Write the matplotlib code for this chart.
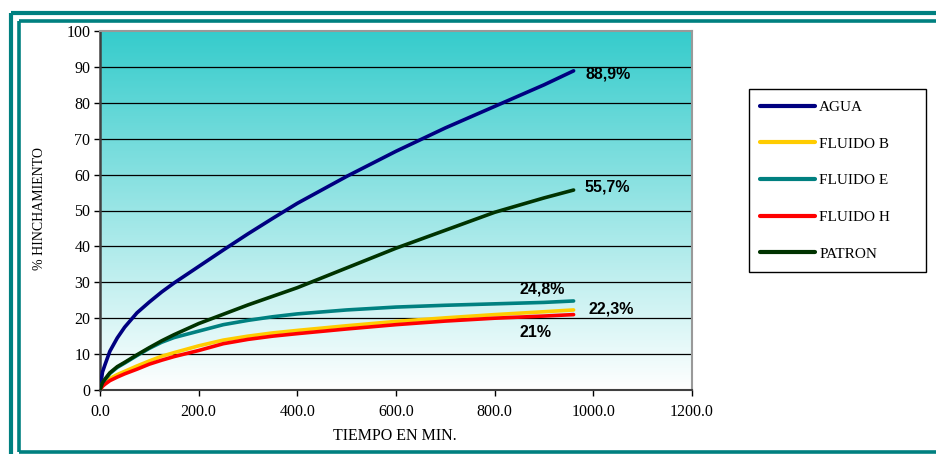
import numpy as np
import matplotlib
matplotlib.use("Agg")
import matplotlib.pyplot as plt
from matplotlib.lines import Line2D

# tiempo (min) y % de hinchamiento de cada fluido
tiempo = [0, 5, 10, 20, 35, 50, 75, 100, 125, 150, 200, 250, 300, 350, 400,
          500, 600, 700, 800, 900, 960]
agua = [0, 5.0, 7.0, 10.8, 14.5, 17.5, 21.5, 24.5, 27.3, 29.8, 34.4, 39.0, 43.5, 47.8, 52,
        59.5, 66.5, 73, 79, 85, 88.9]
fluido_b = [0, 1.3, 2.0, 3.2, 4.3, 5.2, 6.7, 8.1, 9.4, 10.4, 12.3, 13.9, 15.0, 15.9, 16.6,
            17.9, 19.1, 20.1, 21.0, 21.8, 22.3]
fluido_e = [0, 1.9, 2.9, 4.6, 6.3, 7.5, 9.6, 11.6, 13.3, 14.6, 16.4, 18.2, 19.4, 20.4, 21.2,
            22.3, 23.1, 23.6, 24.0, 24.4, 24.8]
fluido_h = [0, 1.0, 1.6, 2.6, 3.6, 4.5, 5.8, 7.2, 8.3, 9.3, 11.0, 12.9, 14.1, 15.0, 15.7,
            17.0, 18.2, 19.2, 20.0, 20.6, 21.0]
patron = [0, 2.0, 3.0, 4.8, 6.5, 7.7, 9.8, 11.8, 13.7, 15.4, 18.5, 21.1, 23.7, 26.1, 28.5,
          34, 39.5, 44.5, 49.5, 53.5, 55.7]

nombres = ["AGUA", "FLUIDO B", "FLUIDO E", "FLUIDO H", "PATRON"]
series = [agua, fluido_b, fluido_e, fluido_h, patron]
colores = ["#000080", "#FFCC00", "#008080", "#FF0000", "#003300"]

# etiquetas finales
etiquetas = ["88,9%", "55,7%", "24,8%", "22,3%", "21%"]
etq_pos = [(985, 88.0), (983, 56.5), (851, 28.0), (990, 22.6), (851, 16.0)]

W, H = 937, 454
fig = plt.figure(figsize=(W / 100, H / 100), dpi=100)

def marco(x0, y0, x1, y1, lw):
    fig.add_artist(Line2D([x0 / W, x1 / W], [1 - y0 / H, 1 - y1 / H],
                          transform=fig.transFigure, color="#008080", lw=lw,
                          solid_capstyle="butt"))

# doble marco
marco(11, 13, 940, 13, 3.0)
marco(11, 13, 11, 460, 3.0)
marco(18.5, 21, 940, 21, 2.6)
marco(18.5, 21, 18.5, 452, 2.6)
marco(18.5, 452, 940, 452, 2.6)

ax = fig.add_axes([100 / W, (H - 390) / H, 592 / W, 359 / H])

# fondo degradado
grad = np.linspace(0, 1, 256).reshape(-1, 1)
top = np.array([0.21, 0.80, 0.80])
bot = np.array([1.0, 1.0, 1.0])
img = top[None, None, :] * (1 - grad[:, :, None]) + bot[None, None, :] * grad[:, :, None]
ax.imshow(img, extent=[0, 1, 0, 1], transform=ax.transAxes, aspect="auto", zorder=0)

for y in range(10, 100, 10):
    ax.axhline(y, color="black", lw=0.9, zorder=1)

for nombre, valores, color in zip(nombres, series, colores):
    ax.plot(tiempo, valores, color=color, lw=2.6, label=nombre, zorder=3,
            solid_capstyle="round")

for txt, (x, y) in zip(etiquetas, etq_pos):
    ax.text(x, y, txt, fontsize=11.5, fontweight="bold", family="Liberation Sans",
            ha="left", va="center", zorder=4)

ax.set_xlim(0, 1200)
ax.set_ylim(0, 100)
ax.set_xticks(range(0, 1201, 200))
ax.set_xticklabels(["%.1f" % v for v in range(0, 1201, 200)])
ax.set_yticks(range(0, 101, 10))
ax.tick_params(direction="out", length=4, width=1, labelsize=11.5, pad=3)
for lab in ax.get_xticklabels() + ax.get_yticklabels():
    lab.set_family("Liberation Serif")
for lab in ax.get_xticklabels():
    lab.set_y(-0.012)

ax.spines["left"].set_linewidth(1.8)
ax.spines["left"].set_color("#404040")
ax.spines["bottom"].set_linewidth(1.5)
ax.spines["bottom"].set_color("#404040")
ax.spines["top"].set_color("#999999")
ax.spines["top"].set_linewidth(1.5)
ax.spines["right"].set_color("#999999")
ax.spines["right"].set_linewidth(1.5)

fig.text(395 / W, 1 - 436 / H, "TIEMPO EN MIN.", family="Liberation Serif",
         fontsize=11.5, ha="center", va="center")
fig.text(40 / W, 1 - 209 / H, "% HINCHAMIENTO", family="Liberation Serif",
         fontsize=10, rotation=90, ha="center", va="center")

leg = fig.legend(loc="upper left",
                 bbox_to_anchor=(749 / W, 1 - 274 / H, 177 / W, 185 / H),
                 mode="expand", borderaxespad=0, frameon=True, fancybox=False,
                 edgecolor="black", framealpha=1, handlelength=3.6,
                 handletextpad=0.25, labelspacing=1.5, borderpad=0.75,
                 prop={"family": "Liberation Serif", "size": 11})
leg.get_frame().set_linewidth(1.0)
for h in leg.get_lines():
    h.set_linewidth(3.0)

fig.savefig("out.png", dpi=100)
